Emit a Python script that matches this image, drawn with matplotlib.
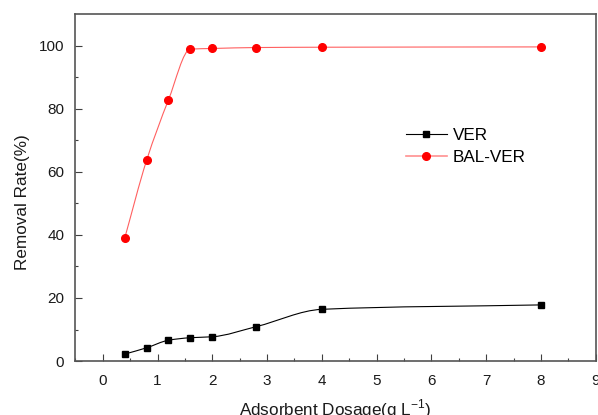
#!/usr/bin/env python3
import numpy as np
import matplotlib
import matplotlib.pyplot as plt
from matplotlib.path import Path
from matplotlib.patches import PathPatch

matplotlib.use("Agg")

plt.rcParams["font.family"] = ["Liberation Sans", "DejaVu Sans"]
plt.rcParams["mathtext.fontset"] = "custom"
plt.rcParams["mathtext.rm"] = "Liberation Sans"

# Data
dosage = [0.4, 0.8, 1.2, 1.6, 2.0, 2.8, 4.0, 8.0]
ver = [2.2, 4.2, 6.6, 7.4, 7.7, 10.9, 16.4, 17.8]
bal_ver = [38.9, 63.6, 82.8, 98.9, 99.1, 99.4, 99.5, 99.6]
x_ticks = [0, 1, 2, 3, 4, 5, 6, 7, 8, 9]
y_ticks = [0, 20, 40, 60, 80, 100]


def smooth_path(x, y):
    # cubic Bezier segments through the points, monotone tangents
    x = np.asarray(x, float)
    y = np.asarray(y, float)
    h = np.diff(x)
    d = np.diff(y) / h
    m = np.zeros_like(y)
    m[0], m[-1] = d[0], d[-1]
    for i in range(1, len(x) - 1):
        if d[i - 1] * d[i] <= 0:
            m[i] = 0
        else:
            w1 = 2 * h[i] + h[i - 1]
            w2 = h[i] + 2 * h[i - 1]
            m[i] = (w1 + w2) / (w1 / d[i - 1] + w2 / d[i])
    verts = [(x[0], y[0])]
    codes = [Path.MOVETO]
    for i in range(len(x) - 1):
        verts += [
            (x[i] + h[i] / 3, y[i] + m[i] * h[i] / 3),
            (x[i + 1] - h[i] / 3, y[i + 1] - m[i + 1] * h[i] / 3),
            (x[i + 1], y[i + 1]),
        ]
        codes += [Path.CURVE4] * 3
    return Path(verts, codes)


fig = plt.figure(figsize=(5.98, 4.15), dpi=100)
ax = fig.add_axes([0.126, 0.130, 0.8702, 0.836])

ax.add_patch(PathPatch(smooth_path(dosage, ver), fill=False,
                       edgecolor="black", lw=0.8, zorder=2))
ax.add_patch(PathPatch(smooth_path(dosage, bal_ver), fill=False,
                       edgecolor="#ff6060", lw=0.8, zorder=2))

ax.plot(dosage, ver, ls="none", marker="s", ms=5, color="black", zorder=3)
ax.plot(dosage, bal_ver, ls="none", marker="o", ms=5.5, color="#ff0000", zorder=3)

# legend proxies
ax.plot([], [], color="black", lw=0.8, marker="s", ms=5, label="VER")
ax.plot([], [], color="#ff9090", lw=1.2, marker="o", ms=5.5,
        markerfacecolor="#ff0000", markeredgecolor="#ff0000", label="BAL-VER")

ax.set_xlim(-0.5, 9)
ax.set_ylim(0, 110)
ax.set_xticks(x_ticks)
ax.set_yticks(y_ticks)
ax.set_xticks(np.arange(-0.5, 9, 0.5), minor=True)
ax.set_yticks(np.arange(10, 110, 20), minor=True)

ax.tick_params(which="both", direction="in", top=False, right=False,
               color="#404040", labelsize=11, labelcolor="#1a1a1a")
ax.tick_params(which="major", length=5, width=0.8)
ax.tick_params(which="minor", length=2.5, width=0.8)
ax.tick_params(axis="y", pad=8)
ax.tick_params(axis="x", pad=9)

for s in ax.spines.values():
    s.set_color("#555555")
    s.set_linewidth(1.2)

ax.set_xlabel("Adsorbent Dosage(g L$^{\\mathregular{-1}}$)", fontsize=12.3,
              color="#1a1a1a", va="top")
ax.set_ylabel("Removal Rate(%)", fontsize=12.3, color="#1a1a1a")
ax.xaxis.set_label_coords(0.5, -0.106)
ax.yaxis.set_label_coords(-0.088, 0.459)

ax.legend(loc="upper left", bbox_to_anchor=(0.635, 0.672), frameon=False,
          fontsize=12.3, handlelength=2.4, handletextpad=0.35,
          labelspacing=0.4, borderpad=0, borderaxespad=0)

fig.savefig("out.png", dpi=100)
